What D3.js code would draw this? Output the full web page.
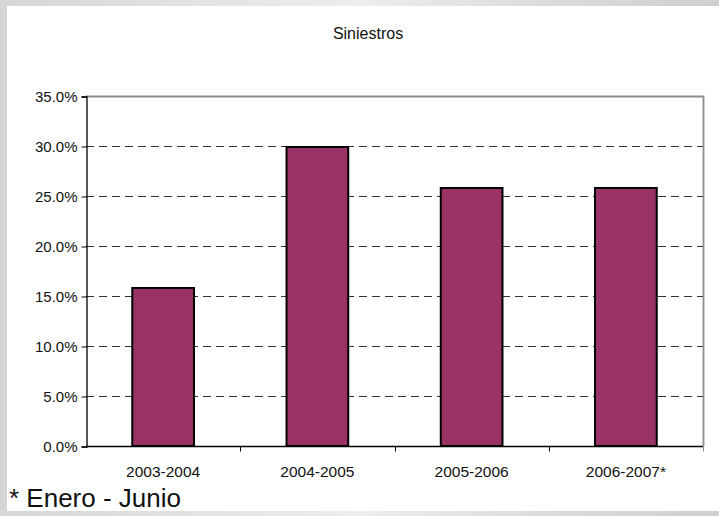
<!DOCTYPE html>
<html>
<head>
<meta charset="utf-8">
<script src="https://cdn.jsdelivr.net/npm/d3@7"></script>
<style>
  body { margin: 0; background: #fff; }
  svg { display: block; font-family: Arial, "Liberation Sans", sans-serif; }
</style>
</head>
<body>
<svg id="chart" width="719" height="516"></svg>
<script>
'use strict';

// data
var categories = ["2003-2004", "2004-2005", "2005-2006", "2006-2007*"];
var values     = [0.158, 0.299, 0.258, 0.258];
var yTicks     = [0, 0.05, 0.10, 0.15, 0.20, 0.25, 0.30, 0.35];

var titleText  = "Siniestros";
var noteText   = "* Enero - Junio";

var width  = 719,
    height = 516;
var margin = { top: 96, right: 16, bottom: 70, left: 86 };

var svg = d3.select("#chart");

/*=====  slide background  ======*/
var defs = svg.append("defs");
var grad = defs.append("linearGradient").attr("id", "edge");
grad.append("stop").attr("offset", "0%").attr("stop-color", "#d6d6d6");
grad.append("stop").attr("offset", "50%").attr("stop-color", "#ededed");
grad.append("stop").attr("offset", "75%").attr("stop-color", "#dcdcdc");
grad.append("stop").attr("offset", "100%").attr("stop-color", "#cfcfcf");

svg.append("rect").attr("width", width).attr("height", height).attr("fill", "url(#edge)");
svg.append("rect")
    .attr("x", 7).attr("y", 6)
    .attr("width", width - 7).attr("height", 505)
    .attr("fill", "#fff");

/*=====  scales  ======*/
var x = d3.scaleBand()
    .domain(categories)
    .range([margin.left, width - margin.right])
    .paddingInner(0.6)
    .paddingOuter(0.3);

var xOuter = d3.scaleBand()
    .domain(categories)
    .range([margin.left, width - margin.right]);

var y = d3.scaleLinear()
    .domain([0, 0.35])
    .range([height - margin.bottom, margin.top]);

var plotLeft  = margin.left,
    plotRight = width - margin.right;

// dashed grid lines
svg.append("g")
    .selectAll("line")
    .data(yTicks.filter(function (d) { return d > 0 && d < 0.35; }))
    .join("line")
        .attr("x1", plotLeft).attr("x2", plotRight)
        .attr("y1", function (d) { return Math.round(y(d)) + 0.5; })
        .attr("y2", function (d) { return Math.round(y(d)) + 0.5; })
        .attr("stroke", "#333")
        .attr("stroke-dasharray", "8,5");

// top and right border
svg.append("path")
    .attr("d", "M" + plotLeft + "," + (y(0.35) + 0.5) + "H" + (plotRight + 0.5) + "V" + (y(0) + 0.5))
    .attr("fill", "none")
    .attr("stroke", "#8c8c8c")
    .attr("stroke-width", 1.8);

// bars
svg.append("g")
    .selectAll("rect")
    .data(values)
    .join("rect")
        .attr("x", function (d, i) { return x(categories[i]); })
        .attr("y", function (d) { return y(d); })
        .attr("width", x.bandwidth())
        .attr("height", function (d) { return y(0) - y(d); })
        .attr("fill", "#993366")
        .attr("stroke", "#000")
        .attr("stroke-width", 2);

// y axis
var yAxis = d3.axisLeft(y)
    .tickValues(yTicks)
    .tickFormat(d3.format(".1%"))
    .tickSizeOuter(0)
    .tickSize(5)
    .tickPadding(4);

var gy = svg.append("g")
    .attr("transform", "translate(" + (plotLeft + 0.5) + ",0.5)")
    .call(yAxis);
gy.select(".domain").attr("stroke", "#000").attr("stroke-width", 1.3);
gy.selectAll("text").attr("font-size", "15px").attr("fill", "#111");

// x axis, ticks at category boundaries
var gx = svg.append("g")
    .attr("transform", "translate(0," + (y(0) + 0.5) + ")");
gx.append("line")
    .attr("x1", plotLeft).attr("x2", plotRight)
    .attr("stroke", "#000").attr("stroke-width", 1.3);
gx.selectAll(".tick-mark")
    .data(categories)
    .join("line")
        .attr("class", "tick-mark")
        .attr("x1", function (d) { return Math.round(xOuter(d) + xOuter.bandwidth()) + 0.5; })
        .attr("x2", function (d) { return Math.round(xOuter(d) + xOuter.bandwidth()) + 0.5; })
        .attr("y1", 0).attr("y2", 5)
        .attr("stroke", function (d, i) { return i === categories.length - 1 ? "#8c8c8c" : "#000"; });
gx.selectAll(".tick-label")
    .data(categories)
    .join("text")
        .attr("class", "tick-label")
        .attr("x", function (d) { return xOuter(d) + xOuter.bandwidth() / 2; })
        .attr("y", 30)
        .attr("text-anchor", "middle")
        .attr("font-size", "15.5px")
        .attr("fill", "#111")
        .text(function (d) { return d; });

// title
svg.append("text")
    .attr("x", 368)
    .attr("y", 39)
    .attr("text-anchor", "middle")
    .attr("font-size", "16px")
    .attr("fill", "#111")
    .text(titleText);

// footnote
svg.append("text")
    .attr("x", 9)
    .attr("y", 507)
    .attr("font-size", "26px")
    .attr("fill", "#111")
    .text(noteText);
</script>
</body>
</html>
